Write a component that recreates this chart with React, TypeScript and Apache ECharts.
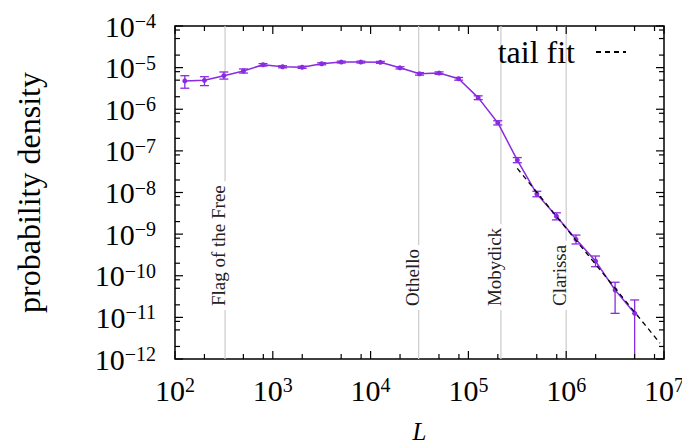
import { useEffect, useRef } from 'react';
import * as echarts from 'echarts';

// Text length distribution: binned density with error bars
const lengthBins = [
  126, 200, 316, 501, 794, 1259, 1995, 3162, 5012, 7943, 12589, 19953,
  31623, 50119, 79433, 125893, 199526, 316228, 501187, 794328, 1258925,
  1995262, 3162278, 5011872,
];
const density = [
  4.8e-6, 4.95e-6, 6.4e-6, 8.3e-6, 1.17e-5, 1.05e-5, 1.02e-5, 1.24e-5,
  1.36e-5, 1.36e-5, 1.34e-5, 9.9e-6, 7.1e-6, 7.4e-6, 5.4e-6, 1.9e-6,
  4.75e-7, 6.0e-8, 9.2e-9, 2.7e-9, 7.5e-10, 2.25e-10, 4.55e-11, 1.25e-11,
];
const densityHigh = [
  6.4e-6, 6.05e-6, 7.85e-6, 9.3e-6, 1.25e-5, 1.11e-5, 1.08e-5, 1.31e-5,
  1.43e-5, 1.43e-5, 1.41e-5, 1.05e-5, 7.6e-6, 7.9e-6, 5.8e-6, 2.1e-6,
  5.3e-7, 6.9e-8, 1.07e-8, 3.25e-9, 9.5e-10, 2.98e-10, 6.97e-11, 2.62e-11,
];
const densityLow = [
  3.2e-6, 3.7e-6, 5.3e-6, 7.4e-6, 1.09e-5, 9.9e-6, 9.6e-6, 1.17e-5,
  1.29e-5, 1.29e-5, 1.27e-5, 9.3e-6, 6.6e-6, 6.9e-6, 5.0e-6, 1.7e-6,
  4.2e-7, 5.2e-8, 7.9e-9, 2.2e-9, 5.8e-10, 1.65e-10, 1.25e-11, 0,
];

// Power-law tail fit (endpoints)
const fitLengths = [3.16e5, 9.1e6];
const fitDensity = [3.8e-8, 2.4e-12];

// Reference books
const bookTitles = ['Flag of the Free', 'Othello', 'Mobydick', 'Clarissa'];
const bookLengths = [325, 31000, 215000, 1000000];
const bookLabelBase = 1.5e-11;

// Axis ranges and tick positions
const X_MIN = 1e2;
const X_MAX = 1e7;
const Y_MIN = 1e-12;
const Y_MAX = 1e-4;
const xDecades = [1e2, 1e3, 1e4, 1e5, 1e6, 1e7];
const yDecades = [1e-12, 1e-11, 1e-10, 1e-9, 1e-8, 1e-7, 1e-6, 1e-5, 1e-4];
const minorSteps = [2, 5, 8];

const FONT = "'Liberation Serif', 'DejaVu Serif', serif";
const PURPLE = '#8a2be2';

const superscriptLabel = (value: number) => {
  const exp = Math.round(Math.log10(value));
  const txt = exp < 0 ? '\u2212' + Math.abs(exp) : String(exp);
  return '{b|10}{s|' + txt + '}';
};

const labelRich = {
  b: { fontFamily: FONT, fontSize: 30, lineHeight: 30, color: '#000' },
  s: { fontFamily: FONT, fontSize: 20, lineHeight: 18, color: '#000', verticalAlign: 'top' },
};

const minorOf = (decades: number[]) => {
  const out: number[] = [];
  decades.slice(0, -1).forEach((d) => minorSteps.forEach((m) => out.push(d * m)));
  return out;
};

export default function App() {
  const ref = useRef<HTMLDivElement>(null);

  useEffect(() => {
    document.body.style.margin = '0';
    if (!ref.current) return;
    const chart = echarts.init(ref.current, null, { renderer: 'svg' });

    const xTickData = [
      ...xDecades.map((v) => [v, Y_MAX, 1]),
      ...minorOf(xDecades).map((v) => [v, Y_MAX, 0]),
    ];
    const yTickData = [
      ...yDecades.map((v) => [X_MIN, v, 1]),
      ...minorOf(yDecades).map((v) => [X_MIN, v, 0]),
    ];

    const option: any = {
      animation: false,
      backgroundColor: '#fff',
      grid: {
        left: 175,
        right: 18,
        top: 26,
        bottom: 87,
        show: true,
        borderColor: '#000',
        borderWidth: 1.5,
        backgroundColor: 'transparent',
        containLabel: false,
        outerBoundsMode: 'none',
      },
      legend: {
        data: ['tail fit'],
        right: 50,
        top: 31,
        align: 'right',
        itemWidth: 30,
        itemHeight: 14,
        itemStyle: { opacity: 0 },
        textStyle: { fontFamily: FONT, fontSize: 32, color: '#000', padding: [0, 16, 0, 0] },
      },
      xAxis: {
        type: 'log',
        logBase: 10,
        min: X_MIN,
        max: X_MAX,
        name: 'L',
        nameLocation: 'middle',
        nameGap: 60,
        nameTextStyle: { fontFamily: FONT, fontSize: 25, fontStyle: 'italic', color: '#000' },
        axisLine: { show: false },
        axisTick: { show: false },
        splitLine: { show: false },
        axisLabel: { margin: 16, formatter: superscriptLabel, rich: labelRich },
      },
      yAxis: {
        type: 'log',
        logBase: 10,
        min: Y_MIN,
        max: Y_MAX,
        name: 'probability density',
        nameLocation: 'middle',
        nameGap: 130,
        nameTextStyle: { fontFamily: FONT, fontSize: 32, color: '#000' },
        axisLine: { show: false },
        axisTick: { show: false },
        splitLine: { show: false },
        axisLabel: { margin: 19, formatter: superscriptLabel, rich: labelRich },
      },
      series: [
        {
          // vertical markers for reference books
          type: 'custom',
          name: 'books',
          z: 1,
          data: bookLengths.map((v, i) => [v, bookLabelBase, i]),
          renderItem: (params: any, api: any) => {
            const cs = params.coordSys;
            const p = api.coord([api.value(0), api.value(1)]);
            const title = bookTitles[api.value(2)];
            return {
              type: 'group',
              children: [
                {
                  type: 'line',
                  shape: { x1: p[0], y1: cs.y, x2: p[0], y2: cs.y + cs.height },
                  style: { stroke: '#cfcfcf', lineWidth: 1.3 },
                },
                {
                  type: 'text',
                  x: p[0] + 3,
                  y: p[1],
                  rotation: Math.PI / 2,
                  style: {
                    text: title,
                    fontFamily: FONT,
                    fontSize: 19,
                    fill: '#222',
                    align: 'left',
                    verticalAlign: 'bottom',
                    backgroundColor: '#fff',
                    padding: [0, 4, 0, 4],
                  },
                },
              ],
            };
          },
        },
        {
          type: 'custom',
          name: 'xticks',
          z: 5,
          silent: true,
          data: xTickData,
          renderItem: (params: any, api: any) => {
            const cs = params.coordSys;
            const x = api.coord([api.value(0), Y_MAX])[0];
            const len = api.value(2) ? 8 : 5;
            const st = { stroke: '#000', lineWidth: 1.2 };
            return {
              type: 'group',
              children: [
                { type: 'line', shape: { x1: x, y1: cs.y + cs.height, x2: x, y2: cs.y + cs.height - len }, style: st },
                { type: 'line', shape: { x1: x, y1: cs.y, x2: x, y2: cs.y + len }, style: st },
              ],
            };
          },
        },
        {
          type: 'custom',
          name: 'yticks',
          z: 5,
          silent: true,
          data: yTickData,
          renderItem: (params: any, api: any) => {
            const cs = params.coordSys;
            const y = api.coord([X_MIN, api.value(1)])[1];
            const len = api.value(2) ? 8 : 5;
            const st = { stroke: '#000', lineWidth: 1.2 };
            return {
              type: 'group',
              children: [
                { type: 'line', shape: { x1: cs.x, y1: y, x2: cs.x + len, y2: y }, style: st },
                { type: 'line', shape: { x1: cs.x + cs.width, y1: y, x2: cs.x + cs.width - len, y2: y }, style: st },
              ],
            };
          },
        },
        {
          type: 'line',
          name: 'density',
          z: 3,
          data: lengthBins.map((v, i) => [v, density[i]]),
          symbol: 'circle',
          symbolSize: 5,
          itemStyle: { color: PURPLE },
          lineStyle: { color: PURPLE, width: 1.5 },
        },
        {
          // error bars
          type: 'custom',
          name: 'errors',
          z: 3,
          data: lengthBins.map((v, i) => [v, densityLow[i], densityHigh[i]]),
          renderItem: (params: any, api: any) => {
            const cs = params.coordSys;
            const x = api.value(0);
            const lo = api.value(1);
            const hi = api.value(2);
            const top = api.coord([x, hi]);
            const bottomY = lo > 0 ? api.coord([x, lo])[1] : cs.y + cs.height;
            const cap = 4.5;
            const st = { stroke: PURPLE, lineWidth: 1.3 };
            const children: any[] = [
              { type: 'line', shape: { x1: top[0], y1: top[1], x2: top[0], y2: bottomY }, style: st },
              { type: 'line', shape: { x1: top[0] - cap, y1: top[1], x2: top[0] + cap, y2: top[1] }, style: st },
            ];
            if (lo > 0) {
              children.push({
                type: 'line',
                shape: { x1: top[0] - cap, y1: bottomY, x2: top[0] + cap, y2: bottomY },
                style: st,
              });
            }
            return { type: 'group', children };
          },
        },
        {
          type: 'line',
          name: 'tail fit',
          z: 4,
          data: fitLengths.map((v, i) => [v, fitDensity[i]]),
          symbol: 'none',
          itemStyle: { color: '#000' },
          lineStyle: { color: '#000', width: 1.3, type: [5, 4] },
        },
      ],
    };

    chart.setOption(option);
    return () => chart.dispose();
  }, []);

  return <div ref={ref} style={{ width: 682, height: 446 }} />;
}
